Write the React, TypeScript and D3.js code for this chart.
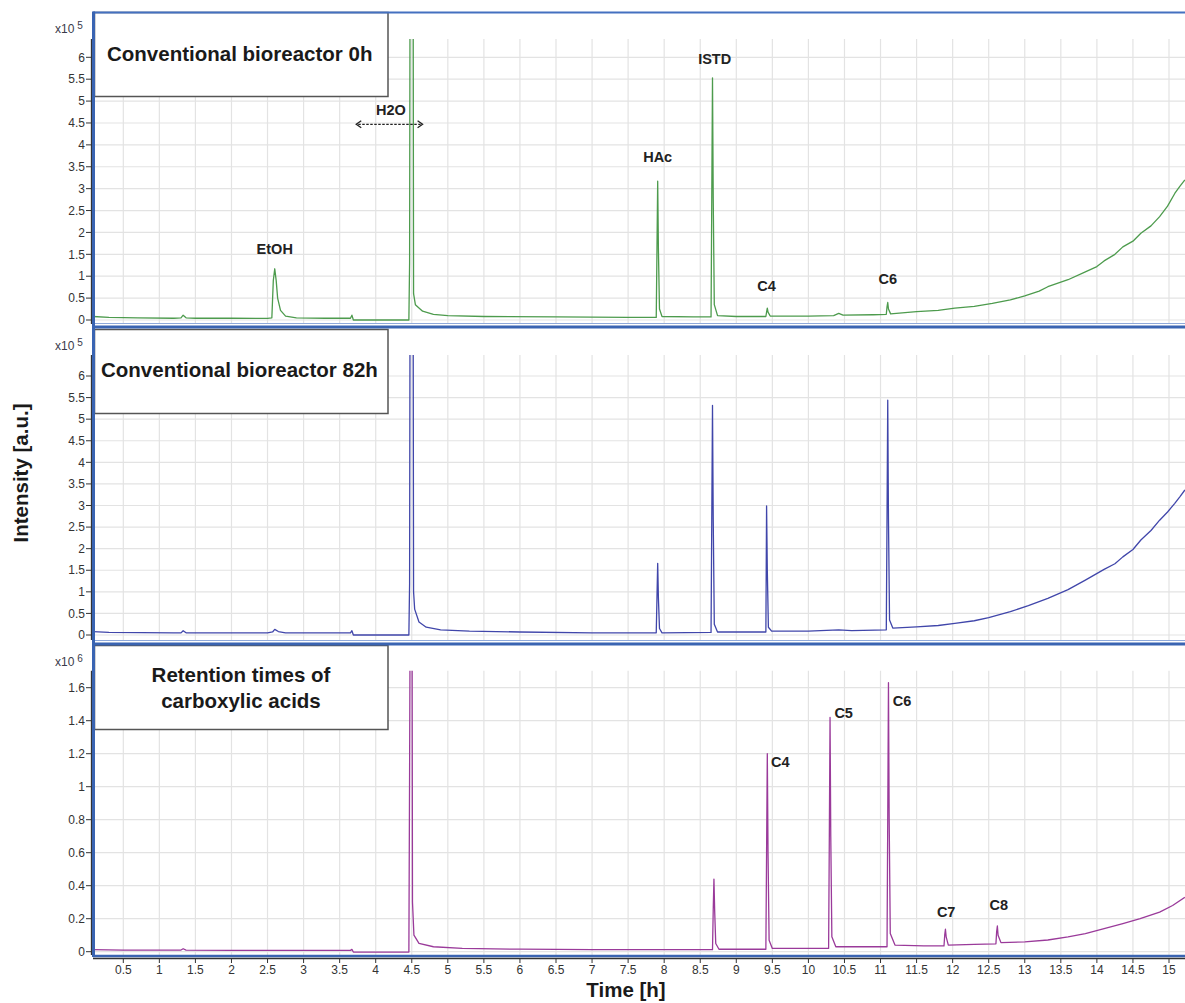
import React from "react";
import * as d3 from "d3";

// x axis ticks (time in h)
const timeTicks = [0.5, 1, 1.5, 2, 2.5, 3, 3.5, 4, 4.5, 5, 5.5, 6, 6.5, 7, 7.5, 8, 8.5, 9, 9.5, 10, 10.5, 11, 11.5, 12, 12.5, 13, 13.5, 14, 14.5, 15];
const ticksE5 = [0, 0.5, 1, 1.5, 2, 2.5, 3, 3.5, 4, 4.5, 5, 5.5, 6];
const ticksE6 = [0, 0.2, 0.4, 0.6, 0.8, 1, 1.2, 1.4, 1.6];

// traces: [time h, intensity]
const trace0h: [number, number][] = [
  [0.08, 0.08], [0.3, 0.06], [0.7, 0.05], [1.2, 0.04], [1.3, 0.05], [1.33, 0.11], [1.37, 0.05], [1.5, 0.04],
  [2.0, 0.04], [2.5, 0.035], [2.56, 0.05], [2.58, 0.9], [2.6, 1.17], [2.62, 0.9], [2.64, 0.5], [2.68, 0.22],
  [2.75, 0.09], [2.9, 0.05], [3.3, 0.04], [3.65, 0.04], [3.67, 0.11], [3.69, 0.0], [4.46, 0.0], [4.47, 1.3],
  [4.475, 6.6], [4.52, 6.6], [4.525, 0.6], [4.55, 0.35], [4.65, 0.2], [4.8, 0.13], [5.0, 0.1], [5.5, 0.08],
  [6.5, 0.07], [7.5, 0.06], [7.89, 0.06], [7.9, 1.6], [7.91, 3.17], [7.92, 1.6], [7.935, 0.25], [7.97, 0.08],
  [8.4, 0.07], [8.65, 0.07], [8.66, 2.8], [8.67, 5.53], [8.68, 2.8], [8.695, 0.35], [8.74, 0.1], [9.0, 0.08],
  [9.41, 0.08], [9.42, 0.18], [9.43, 0.27], [9.44, 0.18], [9.47, 0.09], [10.0, 0.09], [10.35, 0.1], [10.42, 0.15],
  [10.48, 0.11], [10.9, 0.12], [11.08, 0.13], [11.09, 0.3], [11.1, 0.4], [11.11, 0.25], [11.14, 0.14], [11.5, 0.19],
  [11.8, 0.22], [12.03, 0.27], [12.3, 0.31], [12.55, 0.38], [12.8, 0.46], [13.0, 0.55], [13.2, 0.66], [13.32, 0.76],
  [13.6, 0.92], [13.84, 1.1], [14.0, 1.22], [14.1, 1.35], [14.25, 1.5], [14.36, 1.67], [14.5, 1.8], [14.61, 1.98],
  [14.75, 2.15], [14.87, 2.36], [14.98, 2.6], [15.08, 2.89], [15.15, 3.05], [15.22, 3.2],
];

const trace82h: [number, number][] = [
  [0.08, 0.08], [0.3, 0.06], [1.2, 0.05], [1.3, 0.05], [1.33, 0.1], [1.37, 0.05], [2.5, 0.05], [2.57, 0.07],
  [2.6, 0.13], [2.65, 0.08], [2.75, 0.05], [3.65, 0.05], [3.67, 0.1], [3.69, 0.0], [4.46, 0.0], [4.47, 1.2],
  [4.475, 6.7], [4.52, 6.7], [4.525, 1.0], [4.54, 0.6], [4.6, 0.3], [4.7, 0.18], [4.9, 0.12], [5.3, 0.09],
  [6.0, 0.07], [7.0, 0.05], [7.89, 0.05], [7.9, 0.85], [7.91, 1.66], [7.92, 0.85], [7.935, 0.15], [7.97, 0.05],
  [8.65, 0.06], [8.66, 2.7], [8.67, 5.32], [8.68, 2.7], [8.695, 0.25], [8.74, 0.07], [9.41, 0.07], [9.415, 1.5],
  [9.42, 2.99], [9.43, 1.5], [9.445, 0.18], [9.49, 0.09], [10.0, 0.09], [10.42, 0.12], [10.6, 0.1], [11.08, 0.12],
  [11.09, 2.7], [11.1, 5.44], [11.11, 2.7], [11.125, 0.35], [11.17, 0.16], [11.5, 0.19], [11.8, 0.22], [12.03, 0.27],
  [12.3, 0.33], [12.5, 0.4], [12.8, 0.54], [13.05, 0.68], [13.32, 0.85], [13.6, 1.05], [13.84, 1.27], [14.1, 1.52],
  [14.25, 1.65], [14.36, 1.81], [14.5, 1.98], [14.61, 2.2], [14.75, 2.42], [14.87, 2.66], [14.98, 2.85],
  [15.08, 3.05], [15.15, 3.2], [15.22, 3.36],
];

const traceAcids: [number, number][] = [
  [0.08, 0.012], [0.5, 0.01], [1.3, 0.01], [1.33, 0.018], [1.37, 0.01], [2.0, 0.008], [3.65, 0.008], [3.67, 0.014],
  [3.69, -0.002], [4.46, -0.002], [4.47, 1.1], [4.475, 1.75], [4.505, 1.75], [4.51, 0.3], [4.53, 0.1], [4.6, 0.05],
  [4.8, 0.03], [5.2, 0.02], [6.0, 0.015], [7.0, 0.012], [8.0, 0.012], [8.67, 0.012], [8.68, 0.25], [8.69, 0.44],
  [8.7, 0.25], [8.715, 0.05], [8.76, 0.015], [9.41, 0.015], [9.42, 0.6], [9.43, 1.2], [9.44, 0.6], [9.455, 0.07],
  [9.5, 0.02], [10.28, 0.02], [10.29, 0.7], [10.3, 1.42], [10.31, 0.7], [10.325, 0.09], [10.38, 0.03],
  [11.09, 0.03], [11.1, 0.8], [11.11, 1.63], [11.12, 0.8], [11.135, 0.11], [11.2, 0.04], [11.6, 0.035],
  [11.88, 0.035], [11.89, 0.1], [11.9, 0.136], [11.91, 0.09], [11.94, 0.04], [12.3, 0.045], [12.6, 0.048],
  [12.61, 0.12], [12.62, 0.156], [12.63, 0.1], [12.67, 0.055], [13.0, 0.06], [13.32, 0.071], [13.6, 0.09],
  [13.84, 0.11], [14.1, 0.14], [14.36, 0.17], [14.6, 0.2], [14.87, 0.24], [15.05, 0.28], [15.22, 0.33],
];

const labels0h = [
  { text: "EtOH", t: 2.6, v: 1.62, anchor: "middle" },
  { text: "H2O", t: 4.21, v: 4.79, anchor: "middle" },
  { text: "HAc", t: 7.91, v: 3.73, anchor: "middle" },
  { text: "ISTD", t: 8.7, v: 5.97, anchor: "middle" },
  { text: "C4", t: 9.42, v: 0.78, anchor: "middle" },
  { text: "C6", t: 11.1, v: 0.94, anchor: "middle" },
];
const labelsAcids = [
  { text: "C4", t: 9.48, v: 1.15, anchor: "start" },
  { text: "C5", t: 10.36, v: 1.447, anchor: "start" },
  { text: "C6", t: 11.17, v: 1.52, anchor: "start" },
  { text: "C7", t: 11.91, v: 0.242, anchor: "middle" },
  { text: "C8", t: 12.64, v: 0.283, anchor: "middle" },
];

const FONT = "'Liberation Sans', Arial, sans-serif";
const LEFT = 93;
const RIGHT = 1185;

const x = d3.scaleLinear().domain([0.5, 15]).range([123.3, 1169]);

const panels = [
  {
    id: "p0", title: ["Conventional bioreactor 0h"], titleX: 107, titleAnchor: "start", titleY: [61],
    exp: "5", top: 12, plotTop: 39, bottom: 324, y: d3.scaleLinear().domain([0, 6]).range([320, 57.3]),
    ticks: ticksE5, data: trace0h, color: "#4d9b4d", labels: labels0h,
  },
  {
    id: "p1", title: ["Conventional bioreactor 82h"], titleX: 101, titleAnchor: "start", titleY: [377],
    exp: "5", top: 329, plotTop: 355, bottom: 640, y: d3.scaleLinear().domain([0, 6]).range([635, 376]),
    ticks: ticksE5, data: trace82h, color: "#4046aa", labels: [],
  },
  {
    id: "p2", title: ["Retention times of", "carboxylic acids"], titleX: 241, titleAnchor: "middle", titleY: [681.5, 707.5],
    exp: "6", top: 645, plotTop: 670.7, bottom: 955, y: d3.scaleLinear().domain([0, 1.6]).range([951.7, 687.7]),
    ticks: ticksE6, data: traceAcids, color: "#9a3a9a", labels: labelsAcids,
  },
];

function Panel({ p }: { p: any }) {
  const line = d3.line<[number, number]>().x((d) => x(d[0])).y((d) => p.y(d[1]));
  return (
    <g>
      <defs>
        <clipPath id={"clip-" + p.id}>
          <rect x={LEFT} y={p.plotTop} width={RIGHT - LEFT} height={p.bottom - p.plotTop} />
        </clipPath>
      </defs>
      {/* grid */}
      {p.ticks.map((t: number) => (
        <line key={"h" + t} x1={LEFT} x2={RIGHT} y1={p.y(t)} y2={p.y(t)} stroke="#e3e3e3" strokeWidth={1.2} />
      ))}
      {timeTicks.map((t) => (
        <line key={"v" + t} x1={x(t)} x2={x(t)} y1={p.plotTop} y2={p.bottom} stroke="#e3e3e3" strokeWidth={1.2} />
      ))}
      {/* y axis */}
      <line x1={91.5} x2={91.5} y1={p.plotTop} y2={p.bottom} stroke="#333" strokeWidth={1.3} />
      {p.ticks.map((t: number) => (
        <g key={"t" + t}>
          <line x1={86} x2={91} y1={p.y(t)} y2={p.y(t)} stroke="#333" strokeWidth={1} />
          <text x={85} y={p.y(t)} dy="0.35em" textAnchor="end" fontSize={12} fill="#333" fontFamily={FONT}>
            {d3.format("~g")(t)}
          </text>
        </g>
      ))}
      <text x={55} y={p.top + 21} fontSize={12} fill="#3a3a4a" fontFamily={FONT}>
        x10
        <tspan dx={3} dy={-4} fontSize={10}>{p.exp}</tspan>
      </text>
      {/* trace */}
      <path d={line(p.data) || ""} fill="none" stroke={p.color} strokeWidth={1.3} strokeLinejoin="round"
        clipPath={`url(#clip-${p.id})`} />
      {p.labels.map((l: any) => (
        <text key={l.text} x={x(l.t)} y={p.y(l.v)} dy="0.35em" textAnchor={l.anchor} fontSize={14.5}
          fontWeight="bold" fill="#222" fontFamily={FONT}>
          {l.text}
        </text>
      ))}
      {/* title box */}
      <rect x={94.5} y={p.top + 0.5} width={293.5} height={84} fill="#fff" stroke="#555" strokeWidth={1.5} />
      {p.title.map((s: string, i: number) => (
        <text key={s} x={p.titleX} y={p.titleY[i]} textAnchor={p.titleAnchor} fontSize={20.5} fontWeight="bold"
          fill="#1a1a1a" fontFamily={FONT}>
          {s}
        </text>
      ))}
    </g>
  );
}

export default function App() {
  const p0 = panels[0];
  const arrowY = p0.y(4.47);
  const ax1 = x(3.73);
  const ax2 = x(4.65);
  return (
    <svg width={1185} height={1003} style={{ position: "absolute", left: 0, top: 0, background: "#fff" }}>
      <rect width={1185} height={1003} fill="#fff" />
      {panels.map((p) => (
        <Panel key={p.id} p={p} />
      ))}
      {/* H2O arrow */}
      <line x1={ax1 + 2} x2={ax2 - 2} y1={arrowY} y2={arrowY} stroke="#222" strokeWidth={1.3} strokeDasharray="2.5,1.5" />
      <path d={`M${ax1 + 5},${arrowY - 3.5}L${ax1},${arrowY}L${ax1 + 5},${arrowY + 3.5}`} fill="none" stroke="#222" strokeWidth={1.3} />
      <path d={`M${ax2 - 5},${arrowY - 3.5}L${ax2},${arrowY}L${ax2 - 5},${arrowY + 3.5}`} fill="none" stroke="#222" strokeWidth={1.3} />
      {/* blue panel frames */}
      <line x1={LEFT} x2={RIGHT} y1={12.5} y2={12.5} stroke="#4470c0" strokeWidth={2} />
      <line x1={LEFT} x2={RIGHT} y1={323.5} y2={323.5} stroke="#8fa9da" strokeWidth={1} />
      <line x1={LEFT} x2={RIGHT} y1={327} y2={327} stroke="#3a64b2" strokeWidth={3} />
      <line x1={LEFT} x2={RIGHT} y1={640.5} y2={640.5} stroke="#8fa9da" strokeWidth={1} />
      <line x1={LEFT} x2={RIGHT} y1={644} y2={644} stroke="#3a64b2" strokeWidth={3} />
      <line x1={LEFT} x2={RIGHT} y1={956} y2={956} stroke="#3a64b2" strokeWidth={2.5} />
      <line x1={93.5} x2={93.5} y1={11.5} y2={957} stroke="#3a64b2" strokeWidth={3} />
      {/* x axis */}
      <line x1={LEFT} x2={RIGHT} y1={958.5} y2={958.5} stroke="#333" strokeWidth={1.3} />
      {timeTicks.map((t) => (
        <g key={"xt" + t}>
          <line x1={x(t)} x2={x(t)} y1={958.5} y2={963} stroke="#333" strokeWidth={1} />
          <text x={x(t)} y={970} dy="0.35em" textAnchor="middle" fontSize={12} fill="#333" fontFamily={FONT}>
            {t}
          </text>
        </g>
      ))}
      <text x={626} y={990} dy="0.35em" textAnchor="middle" fontSize={20.5} fontWeight="bold" fill="#1a1a1a" fontFamily={FONT}>
        Time [h]
      </text>
      <text transform="translate(21,473) rotate(-90)" dy="0.35em" textAnchor="middle" fontSize={20.5} fontWeight="bold"
        fill="#1a1a1a" fontFamily={FONT}>
        Intensity [a.u.]
      </text>
    </svg>
  );
}
